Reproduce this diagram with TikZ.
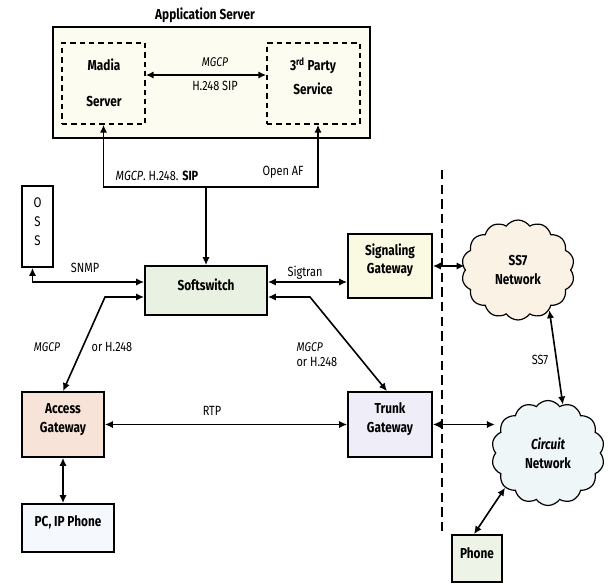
\documentclass[tikz,border=0pt]{standalone}
\usepackage{fontspec}
\setmainfont{Fira Sans}[FakeStretch=0.82]
\usetikzlibrary{arrows.meta,fit,calc,shapes.symbols}
\definecolor{appfill}{HTML}{FCFCF0}
\definecolor{softfill}{HTML}{E8F1E2}
\definecolor{sigfill}{HTML}{FAFAE3}
\definecolor{accfill}{HTML}{F8E3D8}
\definecolor{trunkfill}{HTML}{EFEDF7}
\definecolor{pcfill}{HTML}{F5F8FC}
\definecolor{phonefill}{HTML}{EDF3E6}
\definecolor{ssfill}{HTML}{FBF2E6}
\definecolor{circfill}{HTML}{EEF6F8}
\begin{document}
\begin{tikzpicture}[x=0.75pt,y=-0.75pt,
  box/.style={draw,line width=1.3pt,inner sep=0pt,align=center,font=\bfseries\fontsize{10.8}{14}\selectfont},
  dbox/.style={draw,line width=1.1pt,dash pattern=on 4pt off 3pt,inner sep=0pt},
  conn/.style={line width=1.2pt,-{Latex[length=6pt,width=5.5pt]}},
  dconn/.style={line width=1.2pt,{Latex[length=6pt,width=5.5pt]}-{Latex[length=6pt,width=5.5pt]}},
  lbl/.style={font=\fontsize{10}{12}\selectfont,inner sep=1pt},
  btxt/.style={font=\bfseries\fontsize{10.8}{14}\selectfont,inner sep=1pt,align=center},
  netcloud/.style={cloud,draw,line width=0.9pt,cloud puffs=14,cloud puff arc=110,aspect=1.1,align=center,font=\bfseries\fontsize{10.8}{14}\selectfont}]
\useasboundingbox (0,0) rectangle (611,585);

% boxes
\node[box,fill=appfill,fit={(53,27) (370,138)}] (app) {};
\node[dbox,fit={(62,43) (145,124)}] (madia) {};
\node[dbox,fit={(267,43) (360,124)}] (third) {};
\node[box,fill=white,fit={(22,186) (53,267)},font=\fontsize{10.5}{14.5}\selectfont] (oss) {O\\S\\S};
\node[box,fill=softfill,fit={(145,266) (267,315)}] (soft) {Softswitch};
\node[box,fill=sigfill,fit={(348,234) (432,298)}] (sig) {Signaling\\Gateway};
\node[box,fill=accfill,fit={(22,392) (104,457)}] (access) {Access\\Gateway};
\node[box,fill=trunkfill,fit={(348,392) (432,457)}] (trunk) {Trunk\\Gateway};
\node[box,fill=pcfill,fit={(22,504) (114,552)}] (pc) {PC, IP Phone};
\node[box,fill=phonefill,fit={(452,535) (502,582)}] (phone) {Phone};
\node[netcloud,fill=ssfill,minimum width=84.75pt,minimum height=75pt] (ss7) at (518,270) {SS7\\Network};
\node[netcloud,fill=circfill,minimum width=84.75pt,minimum height=78.75pt] (circ) at (548,453) {\itshape Circuit\\Network};

% texts
\node[btxt] (apptitle) at (205,15) {Application Server};
\node[btxt] (madia1) at (104,65) {Madia};
\node[btxt] (madia2) at (104,102) {Server};
\node[btxt] (third1) at (313,66) {3\textsuperscript{rd} Party};
\node[btxt] (third2) at (313,89) {Service};
\node[lbl,font=\itshape\fontsize{9.5}{12}\selectfont] (l1) at (215,62) {MGCP};
\node[lbl] (l2) at (215,86) {H.248 SIP};
\node[lbl] (l3) at (157,176) {\textit{MGCP}. H.248. \textbf{SIP}};
\node[lbl] (l4) at (283,172) {Open AF};
\node[lbl] (l5) at (85,268) {SNMP};
\node[lbl] (l6) at (305,273) {Sigtran};
\node[lbl,font=\itshape\fontsize{9.5}{12}\selectfont] (l7) at (47,347) {MGCP};
\node[lbl] (l8) at (112,347) {or H.248};
\node[lbl,font=\itshape\fontsize{9.5}{12}\selectfont,anchor=west] (l9) at (295,347) {MGCP};
\node[lbl,anchor=west] (l10) at (295,362) {or H.248};
\node[lbl] (l11) at (212,411) {RTP};
\node[lbl] (l12) at (540,360) {SS7};

% coordinates
\coordinate (j) at (206,187);
\coordinate (b1) at (105,297);
\coordinate (b2) at (310,297);
\coordinate (d1) at (442,170);
\coordinate (d2) at (442,535);

% connectors
\draw[dconn] ($(madia.east)+(0,-8.5)$) -- ($(third.west)+(0,-8.5)$);
\draw[conn] (j) -| (madia.south);
\draw[conn] (j) -| ($(third.south)+(4.5,0)$);
\draw[conn] (j) -- (soft.north);
\draw[dconn] ($(oss.south)+(-5,0)$) |- ($(soft.west)+(0,-8.5)$);
\draw[dconn] ($(soft.west)+(0,6.5)$) -- (b1) -- (access.north);
\draw[dconn] ($(soft.east)+(0,-8.5)$) -- ($(sig.west)+(0,16)$);
\draw[dconn] ($(soft.east)+(0,6.5)$) -- (b2) -- ($(trunk.north)+(-3,0)$);
\draw[dconn] (sig.east) -- (sig.east -| ss7.west);
\draw[dconn] (ss7.-52) -- (circ.73);
\draw[dconn] (trunk.east) -- (trunk.east -| circ.west);
\draw[dconn] (access.east) -- (trunk.west);
\draw[dconn] (access.south) -- (access.south |- pc.north);
\draw[dconn] ($(phone.north)+(-3,0)$) -- (circ.-141);
\draw[line width=1pt,dash pattern=on 7pt off 4pt] (d1) -- (d2);
\end{tikzpicture}
\end{document}
